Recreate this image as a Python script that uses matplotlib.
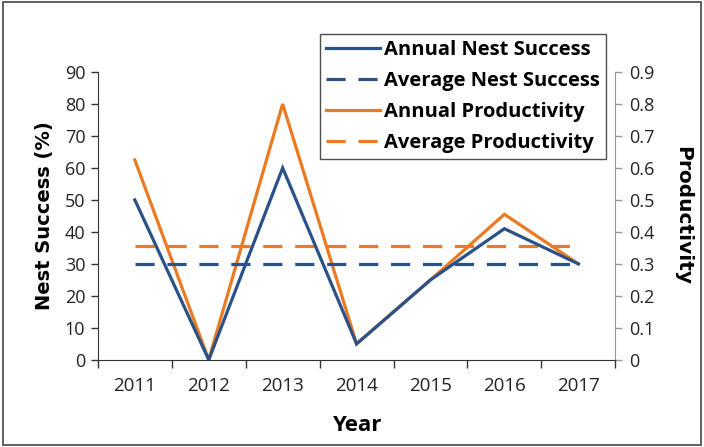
import matplotlib
matplotlib.use("Agg")
import matplotlib.pyplot as plt
import numpy as np

# Values
years = ["2011", "2012", "2013", "2014", "2015", "2016", "2017"]
nest_success = [50, 0, 60, 5, 25, 41, 30]
productivity = [0.625, 0.0, 0.80, 0.05, 0.25, 0.455, 0.30]
avg_nest_success = 30.1
avg_productivity = 0.355

blue = "#2B5288"
orange = "#EC7A23"

plt.rcParams["font.family"] = ["Open Sans", "DejaVu Sans"]

fig = plt.figure(figsize=(7.04, 4.47), dpi=100)
ax = fig.add_axes([0.139, 0.195, 0.735, 0.644])
ax2 = ax.twinx()

x = np.arange(1, len(years) + 1)

l1, = ax.plot(x, nest_success, color=blue, lw=2.3, solid_joinstyle="miter")
l2, = ax.plot([x[0], x[-1]], [avg_nest_success] * 2, color=blue, lw=2.3,
              dashes=(6, 4))
l3, = ax2.plot(x, productivity, color=orange, lw=2.3, solid_joinstyle="miter")
l4, = ax2.plot([x[0], x[-1]], [avg_productivity] * 2, color=orange, lw=2.3,
               dashes=(6, 4))
ax.set_zorder(ax2.get_zorder() + 1)
ax.patch.set_visible(False)

ax.set_xlim(0.5, len(years) + 0.5)
ax.set_ylim(0, 90)
ax2.set_ylim(0, 0.9)
ax.set_yticks(np.arange(0, 91, 10))
ax2.set_yticks(np.arange(0, 0.91, 0.1))
ax2.set_yticklabels(["0"] + ["%.1f" % v for v in np.arange(0.1, 0.91, 0.1)])

# Excel style category axis: ticks between categories, labels at centres
ax.set_xticks(np.arange(0.5, len(years) + 1, 1))
ax.set_xticklabels([])
ax.set_xticks(x, minor=True)
ax.set_xticklabels(years, minor=True)
ax.tick_params(axis="x", which="major", length=6, width=1, color="#333333")
ax.tick_params(axis="x", which="minor", length=0, pad=12, labelsize=13.5,
               labelcolor="#222222")
ax.tick_params(axis="y", length=5, width=1, color="#333333", labelsize=13,
               labelcolor="#222222", pad=4)
ax2.tick_params(axis="y", length=5, width=1, color="#999999", labelsize=13,
                labelcolor="#222222", pad=5)

for s in ["top", "right"]:
    ax.spines[s].set_visible(False)
for s in ["top", "left", "bottom"]:
    ax2.spines[s].set_visible(False)
ax.spines["left"].set_color("#333333")
ax.spines["bottom"].set_color("#333333")
ax2.spines["right"].set_color("#999999")

ax.set_ylabel("Nest Success (%)", family="DejaVu Sans", fontweight="bold",
              fontsize=14, labelpad=8)
ax2.set_ylabel("Productivity", family="DejaVu Sans", fontweight="bold",
               fontsize=14.5, rotation=270, labelpad=27)
ax.set_xlabel("Year", fontweight="bold", fontsize=16, labelpad=15)

leg = fig.legend([l1, l2, l3, l4],
                 ["Annual Nest Success", "Average Nest Success",
                  "Annual Productivity", "Average Productivity"],
                 loc="upper left", bbox_to_anchor=(0.4545, 0.924),
                 frameon=True, fancybox=False, edgecolor="#222222",
                 handlelength=2.7, handletextpad=0.2, labelspacing=0.55,
                 borderpad=0.3, borderaxespad=0,
                 prop={"weight": "bold", "size": 14.5})
leg.get_frame().set_linewidth(1.0)

# thin frame around the whole picture
fig.patches.append(plt.Rectangle((0.004, 0.005), 0.992, 0.99,
                                 transform=fig.transFigure, fill=False,
                                 edgecolor="#444444", lw=1.2))

fig.savefig("out.png", dpi=100)
